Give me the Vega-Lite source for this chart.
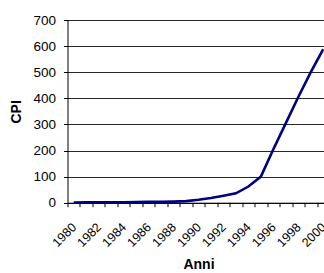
{
  "$schema": "https://vega.github.io/schema/vega-lite/v6.json",
  "autosize": "none",
  "width": 262,
  "height": 182.7,
  "padding": {"left": 67.5, "top": 20, "right": 0, "bottom": 70.3},
  "background": "white",
  "config": {
    "font": "Liberation Sans",
    "view": {"stroke": null},
    "axis": {"labelColor": "black", "titleColor": "black", "domainColor": "black", "tickColor": "black", "labelFont": "Liberation Sans", "titleFont": "Liberation Sans"}
  },
  "data": {
    "values": [
      {"anno": 1980, "cpi": 1},
      {"anno": 1981, "cpi": 1.5},
      {"anno": 1982, "cpi": 2},
      {"anno": 1983, "cpi": 2},
      {"anno": 1984, "cpi": 2},
      {"anno": 1985, "cpi": 2.5},
      {"anno": 1986, "cpi": 3},
      {"anno": 1987, "cpi": 3},
      {"anno": 1988, "cpi": 4},
      {"anno": 1989, "cpi": 6},
      {"anno": 1990, "cpi": 11},
      {"anno": 1991, "cpi": 18},
      {"anno": 1992, "cpi": 27},
      {"anno": 1993, "cpi": 36},
      {"anno": 1994, "cpi": 62},
      {"anno": 1995, "cpi": 100},
      {"anno": 1996, "cpi": 205},
      {"anno": 1997, "cpi": 305},
      {"anno": 1998, "cpi": 405},
      {"anno": 1999, "cpi": 500},
      {"anno": 2000, "cpi": 588}
    ]
  },
  "mark": {"type": "line", "color": "#000080", "strokeWidth": 2.6},
  "encoding": {
    "x": {
      "field": "anno",
      "type": "ordinal",
      "scale": {"type": "band", "paddingInner": 0, "paddingOuter": 0},
      "axis": {
        "title": "Anni",
        "titleFontSize": 14,
        "titleFontWeight": "bold",
        "titlePadding": 9,
        "labelAngle": -45,
        "labelAlign": "right",
        "labelBaseline": "middle",
        "labelFontSize": 12.5,
        "labelDx": -11,
        "labelPadding": 18,
        "labelExpr": "datum.value % 2 == 0 ? datum.label : ''",
        "tickBand": "extent",
        "tickSize": 4,
        "grid": false,
        "domainWidth": 1,
        "labelOverlap": false
      }
    },
    "y": {
      "field": "cpi",
      "type": "quantitative",
      "scale": {"domain": [0, 700], "nice": false},
      "axis": {
        "title": "CPI",
        "titleFontSize": 14,
        "titleFontWeight": "bold",
        "titlePadding": 9,
        "values": [0, 100, 200, 300, 400, 500, 600, 700],
        "labelFontSize": 13.5,
        "labelPadding": 8,
        "tickSize": 4,
        "grid": true,
        "gridColor": "black",
        "gridOpacity": 0.85,
        "gridWidth": 1,
        "domainWidth": 1
      }
    }
  }
}
